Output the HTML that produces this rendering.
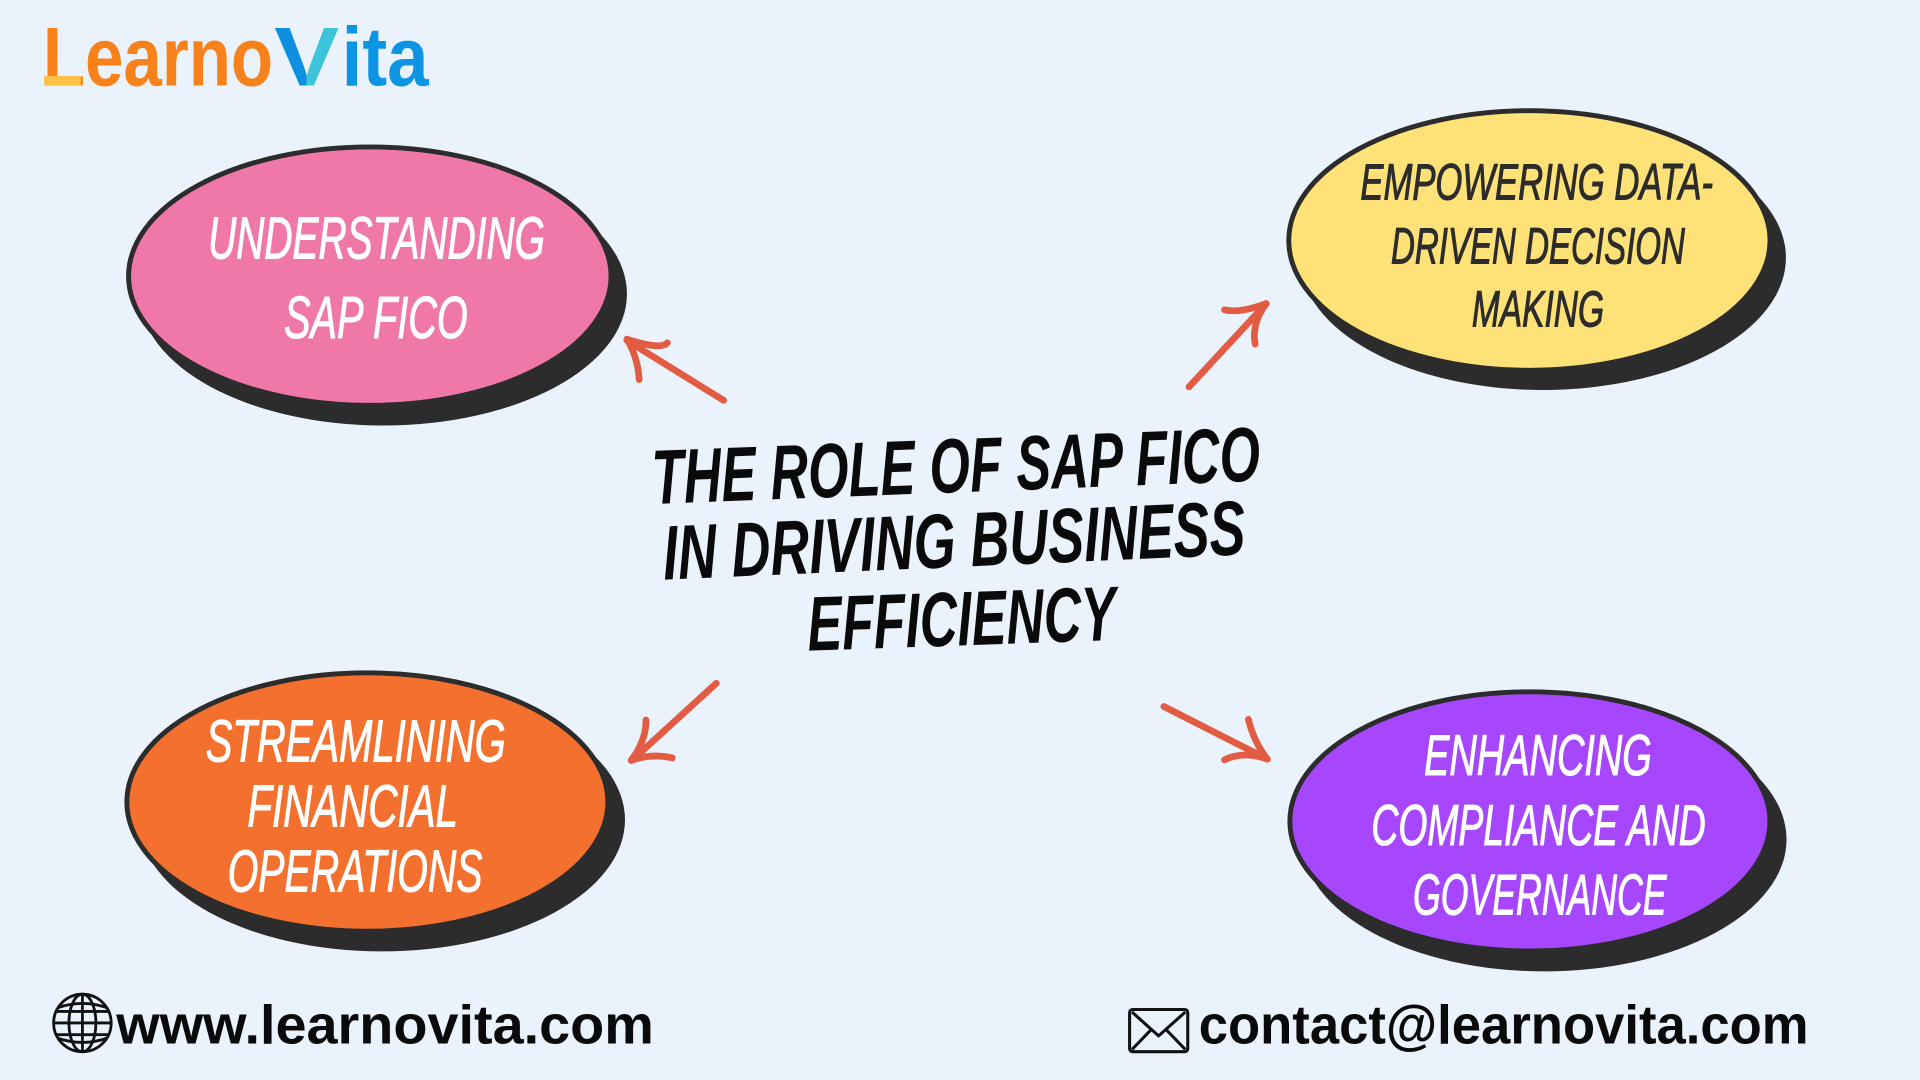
<!DOCTYPE html>
<html>
<head>
<meta charset="utf-8">
<style>
html,body{margin:0;padding:0;background:#EAF2FC;}
body{width:1920px;height:1080px;overflow:hidden;}
svg{display:block;}
</style>
</head>
<body>
<svg width="1920" height="1080" viewBox="0 0 1568 882" xmlns="http://www.w3.org/2000/svg">
<defs>
<linearGradient id="vg" x1="0" y1="0" x2="1" y2="0">
<stop offset="0" stop-color="#0E8FE0"/>
<stop offset="0.5" stop-color="#0E8FE0"/>
<stop offset="0.5" stop-color="#3CC5DA"/>
<stop offset="1" stop-color="#3CC5DA"/>
</linearGradient>
</defs>
<rect x="0" y="0" width="1568" height="882" fill="#EAF2FC"/>

<!-- Logo -->
<g font-family="'Liberation Sans', sans-serif" font-weight="bold" font-size="68">
<text x="35" y="70" textLength="188" lengthAdjust="spacingAndGlyphs" fill="#F7821B">Learno</text>
<text x="224" y="70" textLength="53" lengthAdjust="spacingAndGlyphs" fill="url(#vg)">V</text>
<text x="279" y="70" textLength="71" lengthAdjust="spacingAndGlyphs" fill="#0D95E3">ita</text>
</g>
<rect x="36" y="62" width="30" height="8" fill="#FFC145"/>

<!-- Ellipse shadows -->
<g fill="#2C2C2C">
<ellipse cx="313" cy="240" rx="199" ry="107.5"/>
<ellipse cx="1260" cy="210.5" rx="198.5" ry="108"/>
<ellipse cx="312" cy="669.5" rx="198.4" ry="107.5"/>
<ellipse cx="1261" cy="685.5" rx="198" ry="107.8"/>
</g>
<!-- Ellipses -->
<g stroke="#2C2C2C" stroke-width="4">
<ellipse cx="302" cy="225.5" rx="197" ry="105.5" fill="#EF78A9"/>
<ellipse cx="1249" cy="196.4" rx="196.5" ry="106" fill="#FFE277"/>
<ellipse cx="300" cy="655" rx="196.4" ry="105.5" fill="#F3702F"/>
<ellipse cx="1249.4" cy="670.8" rx="196" ry="105.8" fill="#A647FD"/>
</g>

<!-- Ellipse texts -->
<g font-family="'Liberation Sans', sans-serif" font-weight="normal" font-style="italic" stroke-width="0.9">
<g fill="#FFFFFF" stroke="#FFFFFF" font-size="48.5">
<text x="170" y="211" textLength="275" lengthAdjust="spacingAndGlyphs">UNDERSTANDING</text>
<text x="232" y="276" textLength="150" lengthAdjust="spacingAndGlyphs">SAP FICO</text>
<text x="168" y="622" textLength="245" lengthAdjust="spacingAndGlyphs">STREAMLINING</text>
<text x="202" y="675" textLength="172" lengthAdjust="spacingAndGlyphs">FINANCIAL</text>
<text x="186" y="728" textLength="208" lengthAdjust="spacingAndGlyphs">OPERATIONS</text>
</g>
<g fill="#FFFFFF" stroke="#FFFFFF" font-size="47">
<text x="1163" y="633" textLength="186" lengthAdjust="spacingAndGlyphs">ENHANCING</text>
<text x="1120" y="690" textLength="273" lengthAdjust="spacingAndGlyphs">COMPLIANCE AND</text>
<text x="1154" y="747" textLength="207" lengthAdjust="spacingAndGlyphs">GOVERNANCE</text>
</g>
<g fill="#2C2C2C" stroke="#2C2C2C" font-size="41.5">
<text x="1111" y="163" textLength="288" lengthAdjust="spacingAndGlyphs">EMPOWERING DATA-</text>
<text x="1136" y="215" textLength="240" lengthAdjust="spacingAndGlyphs">DRIVEN DECISION</text>
<text x="1202" y="266.5" textLength="108" lengthAdjust="spacingAndGlyphs">MAKING</text>
</g>
</g>
<!-- Title -->
<g font-family="'Liberation Sans', sans-serif" font-weight="bold" font-style="italic" fill="#0A0A0A" font-size="63">
<text x="533" y="402" textLength="497" lengthAdjust="spacingAndGlyphs" transform="rotate(-2.2 782 402)">THE ROLE OF SAP FICO</text>
<text x="542" y="463" textLength="476" lengthAdjust="spacingAndGlyphs" transform="rotate(-2.5 780 463)">IN DRIVING BUSINESS</text>
<text x="660" y="527" textLength="252" lengthAdjust="spacingAndGlyphs" transform="rotate(-2 786 527)">EFFICIENCY</text>
</g>

<!-- Arrows -->
<g fill="none" stroke="#E25C44" stroke-width="5.5" stroke-linecap="round" stroke-linejoin="round">
<path d="M591,327 L512,278"/>
<path d="M545,280 Q540,286 512,277"/>
<path d="M512,277 Q521,292 522,310"/>

<path d="M971,316 L1034,248"/>
<path d="M1000,253 Q1012,256 1034,248"/>
<path d="M1034,248 Q1022,264 1025,281"/>

<path d="M585,558 L516,621"/>
<path d="M527.5,588 Q528,604 515.5,621"/>
<path d="M515.5,621 Q532,615 549,619"/>

<path d="M950.5,577 L1035,620"/>
<path d="M1019.5,587.5 Q1024,606 1035,620"/>
<path d="M1035,620 Q1016,613 1000,620.5"/>
</g>

<!-- Globe icon -->
<g fill="none" stroke="#111" stroke-width="2.3">
<circle cx="67.3" cy="835.4" r="23.5"/>
<ellipse cx="67.3" cy="835.4" rx="11" ry="23.5"/>
<line x1="67.3" y1="811.9" x2="67.3" y2="858.9"/>
<line x1="43.8" y1="835.4" x2="90.8" y2="835.4"/>
<path d="M47,823 Q67.3,816 87.6,823"/>
<path d="M47,847.8 Q67.3,854.8 87.6,847.8"/>
<line x1="46" y1="826" x2="88.6" y2="826"/>
<line x1="46" y1="845" x2="88.6" y2="845"/>
</g>

<!-- Envelope icon -->
<g fill="none" stroke="#111" stroke-width="2.5" stroke-linejoin="round">
<rect x="922.5" y="824.4" width="47.5" height="34.5" rx="2.5"/>
<path d="M924.5,826.5 L946.2,846 L968,826.5"/>
<path d="M924.5,857 L940.5,840.5"/>
<path d="M968,857 L952,840.5"/>
</g>

<!-- Footer texts -->
<g font-family="'Liberation Sans', sans-serif" font-weight="bold" fill="#0A0A0A" font-size="45">
<text x="95" y="852" textLength="439" lengthAdjust="spacingAndGlyphs">www.learnovita.com</text>
<text x="979" y="852" textLength="498" lengthAdjust="spacingAndGlyphs">contact@learnovita.com</text>
</g>
</svg>
</body>
</html>
